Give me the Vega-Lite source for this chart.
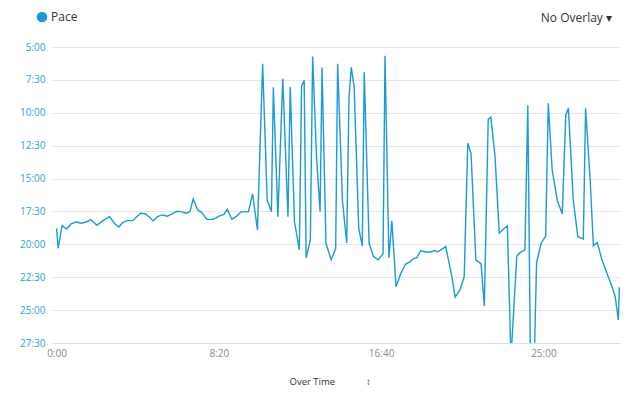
{
  "$schema": "https://vega.github.io/schema/vega-lite/v6.json",
  "autosize": "none",
  "width": 568,
  "height": 296,
  "padding": {"left": 52, "top": 47, "right": 20, "bottom": 54},
  "background": "white",
  "config": {
    "view": {"stroke": null},
    "font": "Open Sans",
    "title": {"font": "Open Sans", "fontSize": 12, "fontWeight": "normal", "color": "#333333"}
  },
  "title": {"text": "No Overlay ▾", "anchor": "end", "frame": "group", "dx": -8, "offset": 0, "dy": 19, "baseline": "middle"},
  "data": {
    "values": [
      {"t": 0, "pace": 1127, "series": "Pace"},
      {"t": 5, "pace": 1218, "series": "Pace"},
      {"t": 17, "pace": 1115, "series": "Pace"},
      {"t": 31, "pace": 1130, "series": "Pace"},
      {"t": 45, "pace": 1107, "series": "Pace"},
      {"t": 60, "pace": 1098, "series": "Pace"},
      {"t": 76, "pace": 1104, "series": "Pace"},
      {"t": 91, "pace": 1098, "series": "Pace"},
      {"t": 106, "pace": 1087, "series": "Pace"},
      {"t": 124, "pace": 1113, "series": "Pace"},
      {"t": 142, "pace": 1093, "series": "Pace"},
      {"t": 163, "pace": 1074, "series": "Pace"},
      {"t": 178, "pace": 1104, "series": "Pace"},
      {"t": 192, "pace": 1121, "series": "Pace"},
      {"t": 204, "pace": 1101, "series": "Pace"},
      {"t": 218, "pace": 1092, "series": "Pace"},
      {"t": 235, "pace": 1092, "series": "Pace"},
      {"t": 247, "pace": 1074, "series": "Pace"},
      {"t": 259, "pace": 1058, "series": "Pace"},
      {"t": 273, "pace": 1060, "series": "Pace"},
      {"t": 286, "pace": 1075, "series": "Pace"},
      {"t": 298, "pace": 1093, "series": "Pace"},
      {"t": 311, "pace": 1074, "series": "Pace"},
      {"t": 326, "pace": 1066, "series": "Pace"},
      {"t": 341, "pace": 1072, "series": "Pace"},
      {"t": 356, "pace": 1061, "series": "Pace"},
      {"t": 370, "pace": 1049, "series": "Pace"},
      {"t": 386, "pace": 1052, "series": "Pace"},
      {"t": 399, "pace": 1058, "series": "Pace"},
      {"t": 411, "pace": 1051, "series": "Pace"},
      {"t": 421, "pace": 993, "series": "Pace"},
      {"t": 435, "pace": 1043, "series": "Pace"},
      {"t": 447, "pace": 1054, "series": "Pace"},
      {"t": 463, "pace": 1086, "series": "Pace"},
      {"t": 483, "pace": 1086, "series": "Pace"},
      {"t": 502, "pace": 1070, "series": "Pace"},
      {"t": 516, "pace": 1063, "series": "Pace"},
      {"t": 526, "pace": 1040, "series": "Pace"},
      {"t": 540, "pace": 1086, "series": "Pace"},
      {"t": 553, "pace": 1074, "series": "Pace"},
      {"t": 568, "pace": 1052, "series": "Pace"},
      {"t": 591, "pace": 1052, "series": "Pace"},
      {"t": 604, "pace": 970, "series": "Pace"},
      {"t": 619, "pace": 1134, "series": "Pace"},
      {"t": 635, "pace": 376, "series": "Pace"},
      {"t": 649, "pace": 998, "series": "Pace"},
      {"t": 662, "pace": 1051, "series": "Pace"},
      {"t": 668, "pace": 484, "series": "Pace"},
      {"t": 682, "pace": 1074, "series": "Pace"},
      {"t": 697, "pace": 445, "series": "Pace"},
      {"t": 713, "pace": 1074, "series": "Pace"},
      {"t": 720, "pace": 482, "series": "Pace"},
      {"t": 733, "pace": 1096, "series": "Pace"},
      {"t": 748, "pace": 1225, "series": "Pace"},
      {"t": 755, "pace": 479, "series": "Pace"},
      {"t": 763, "pace": 452, "series": "Pace"},
      {"t": 769, "pace": 1262, "series": "Pace"},
      {"t": 782, "pace": 1180, "series": "Pace"},
      {"t": 789, "pace": 343, "series": "Pace"},
      {"t": 801, "pace": 801, "series": "Pace"},
      {"t": 812, "pace": 1051, "series": "Pace"},
      {"t": 818, "pace": 393, "series": "Pace"},
      {"t": 830, "pace": 1194, "series": "Pace"},
      {"t": 846, "pace": 1271, "series": "Pace"},
      {"t": 860, "pace": 1219, "series": "Pace"},
      {"t": 866, "pace": 376, "series": "Pace"},
      {"t": 881, "pace": 1004, "series": "Pace"},
      {"t": 894, "pace": 1194, "series": "Pace"},
      {"t": 901, "pace": 533, "series": "Pace"},
      {"t": 908, "pace": 393, "series": "Pace"},
      {"t": 917, "pace": 484, "series": "Pace"},
      {"t": 931, "pace": 1127, "series": "Pace"},
      {"t": 942, "pace": 1207, "series": "Pace"},
      {"t": 948, "pace": 415, "series": "Pace"},
      {"t": 963, "pace": 1194, "series": "Pace"},
      {"t": 976, "pace": 1255, "series": "Pace"},
      {"t": 991, "pace": 1271, "series": "Pace"},
      {"t": 1006, "pace": 1243, "series": "Pace"},
      {"t": 1012, "pace": 340, "series": "Pace"},
      {"t": 1024, "pace": 1262, "series": "Pace"},
      {"t": 1033, "pace": 1093, "series": "Pace"},
      {"t": 1046, "pace": 1394, "series": "Pace"},
      {"t": 1060, "pace": 1335, "series": "Pace"},
      {"t": 1075, "pace": 1291, "series": "Pace"},
      {"t": 1089, "pace": 1280, "series": "Pace"},
      {"t": 1099, "pace": 1266, "series": "Pace"},
      {"t": 1110, "pace": 1261, "series": "Pace"},
      {"t": 1122, "pace": 1229, "series": "Pace"},
      {"t": 1137, "pace": 1235, "series": "Pace"},
      {"t": 1152, "pace": 1235, "series": "Pace"},
      {"t": 1166, "pace": 1228, "series": "Pace"},
      {"t": 1173, "pace": 1235, "series": "Pace"},
      {"t": 1181, "pace": 1229, "series": "Pace"},
      {"t": 1199, "pace": 1210, "series": "Pace"},
      {"t": 1218, "pace": 1347, "series": "Pace"},
      {"t": 1228, "pace": 1441, "series": "Pace"},
      {"t": 1243, "pace": 1408, "series": "Pace"},
      {"t": 1256, "pace": 1347, "series": "Pace"},
      {"t": 1267, "pace": 739, "series": "Pace"},
      {"t": 1277, "pace": 785, "series": "Pace"},
      {"t": 1292, "pace": 1271, "series": "Pace"},
      {"t": 1308, "pace": 1289, "series": "Pace"},
      {"t": 1318, "pace": 1481, "series": "Pace"},
      {"t": 1330, "pace": 630, "series": "Pace"},
      {"t": 1338, "pace": 620, "series": "Pace"},
      {"t": 1351, "pace": 800, "series": "Pace"},
      {"t": 1364, "pace": 1149, "series": "Pace"},
      {"t": 1376, "pace": 1131, "series": "Pace"},
      {"t": 1389, "pace": 1116, "series": "Pace"},
      {"t": 1400, "pace": 1720, "series": "Pace"},
      {"t": 1418, "pace": 1253, "series": "Pace"},
      {"t": 1428, "pace": 1238, "series": "Pace"},
      {"t": 1443, "pace": 1225, "series": "Pace"},
      {"t": 1452, "pace": 566, "series": "Pace"},
      {"t": 1460, "pace": 1720, "series": "Pace"},
      {"t": 1472, "pace": 1720, "series": "Pace"},
      {"t": 1479, "pace": 1283, "series": "Pace"},
      {"t": 1493, "pace": 1195, "series": "Pace"},
      {"t": 1507, "pace": 1162, "series": "Pace"},
      {"t": 1515, "pace": 557, "series": "Pace"},
      {"t": 1527, "pace": 861, "series": "Pace"},
      {"t": 1543, "pace": 1001, "series": "Pace"},
      {"t": 1558, "pace": 1061, "series": "Pace"},
      {"t": 1569, "pace": 610, "series": "Pace"},
      {"t": 1577, "pace": 579, "series": "Pace"},
      {"t": 1592, "pace": 998, "series": "Pace"},
      {"t": 1606, "pace": 1165, "series": "Pace"},
      {"t": 1623, "pace": 1175, "series": "Pace"},
      {"t": 1630, "pace": 579, "series": "Pace"},
      {"t": 1644, "pace": 903, "series": "Pace"},
      {"t": 1654, "pace": 1207, "series": "Pace"},
      {"t": 1666, "pace": 1192, "series": "Pace"},
      {"t": 1681, "pace": 1274, "series": "Pace"},
      {"t": 1712, "pace": 1396, "series": "Pace"},
      {"t": 1721, "pace": 1438, "series": "Pace"},
      {"t": 1731, "pace": 1545, "series": "Pace"},
      {"t": 1734, "pace": 1396, "series": "Pace"}
    ]
  },
  "mark": {"type": "line", "strokeWidth": 1.4, "clip": true, "interpolate": "linear"},
  "encoding": {
    "x": {
      "field": "t",
      "type": "quantitative",
      "scale": {"domain": [-14, 1736], "nice": false, "zero": false},
      "axis": {
        "values": [0, 500, 1000, 1500],
        "labelExpr": "floor(datum.value/60) + ':' + (datum.value%60 < 10 ? '0' : '') + (datum.value%60)",
        "grid": false,
        "ticks": false,
        "domainColor": "#cfe2f0",
        "domainWidth": 1,
        "labelColor": "#8a8a8a",
        "labelFont": "Open Sans",
        "labelFontSize": 10,
        "labelPadding": 5,
        "title": "Over Time\u2003\u2003\u2003\u00a0↕",
        "titleFont": "Open Sans",
        "titleFontSize": 9.5,
        "titleFontWeight": "normal",
        "titleColor": "#333333",
        "titleX": 237,
        "titleY": 38,
        "titleAlign": "left",
        "titleAnchor": "start",
        "titleBaseline": "middle"
      }
    },
    "y": {
      "field": "pace",
      "type": "quantitative",
      "scale": {"domain": [300, 1650], "reverse": true, "nice": false, "zero": false},
      "axis": {
        "values": [300, 450, 600, 750, 900, 1050, 1200, 1350, 1500, 1650],
        "labelExpr": "floor(datum.value/60) + ':' + (datum.value%60 < 10 ? '0' : '') + (datum.value%60)",
        "grid": true,
        "gridColor": "#e6e6e6",
        "gridWidth": 1,
        "domain": false,
        "ticks": false,
        "labelColor": "#2f9fd8",
        "labelFont": "Open Sans",
        "labelFontSize": 10,
        "labelPadding": 7,
        "title": null
      }
    },
    "color": {
      "field": "series",
      "type": "nominal",
      "scale": {"range": ["#1a9bd7"]},
      "legend": {
        "orient": "none",
        "legendX": -16,
        "legendY": -36,
        "title": null,
        "padding": 0,
        "symbolType": "circle",
        "symbolSize": 110,
        "symbolFillColor": "#1a9bd7",
        "symbolStrokeWidth": 0,
        "labelFont": "Open Sans",
        "labelFontSize": 12,
        "labelColor": "#333333",
        "labelOffset": 3
      }
    }
  }
}
